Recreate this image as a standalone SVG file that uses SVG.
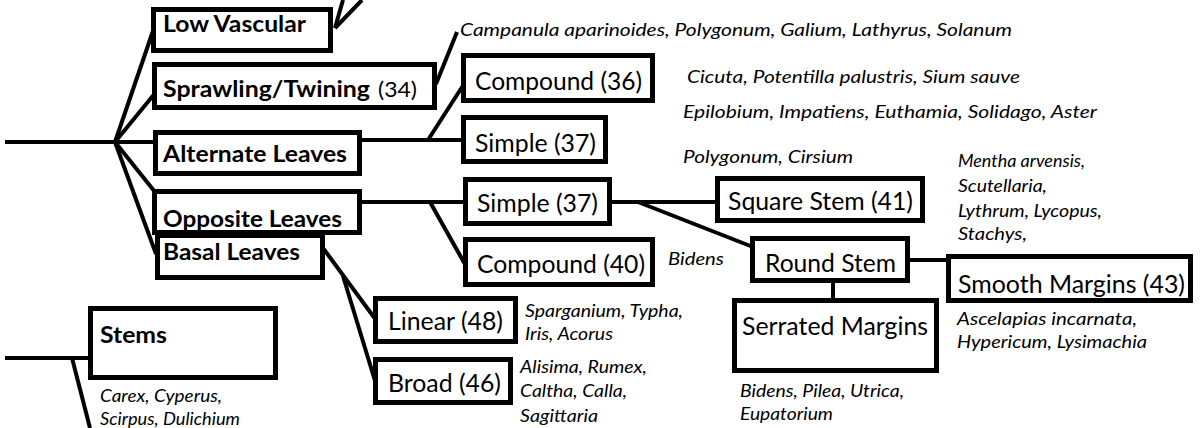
<svg xmlns="http://www.w3.org/2000/svg" width="1201" height="428" viewBox="0 0 1201 428">
<style>
.box{fill:#fff;stroke:#000;stroke-width:5}
.c{stroke:#000;stroke-width:4;fill:none;stroke-linecap:butt}
text{font-family:Lato,"Open Sans","Liberation Sans",sans-serif;fill:#000}
.b{font-weight:bold;font-size:22px}
.r{font-size:25px}
.i{font-style:italic;font-size:17.5px}
</style>
<rect width="1201" height="428" fill="#fff"/>
<g id="connectors">
<line class="c" x1="5" y1="142" x2="155" y2="142"/>
<line class="c" x1="115" y1="142" x2="154" y2="28"/>
<line class="c" x1="115" y1="142" x2="156" y2="92"/>
<line class="c" x1="115" y1="142" x2="155" y2="192"/>
<line class="c" x1="115" y1="142" x2="156" y2="254"/>
<line class="c" x1="335" y1="28" x2="343" y2="0"/>
<line class="c" x1="335" y1="28" x2="362" y2="0"/>
<line class="c" x1="436" y1="84" x2="457" y2="32"/>
<line class="c" x1="360" y1="140" x2="464" y2="140"/>
<line class="c" x1="428" y1="140" x2="464" y2="84"/>
<line class="c" x1="360" y1="202" x2="466" y2="202"/>
<line class="c" x1="430" y1="202" x2="466" y2="266"/>
<line class="c" x1="610" y1="202" x2="718" y2="202"/>
<line class="c" x1="638" y1="202" x2="753" y2="247"/>
<line class="c" x1="908" y1="260" x2="949" y2="260"/>
<line class="c" x1="833" y1="281" x2="833" y2="301"/>
<line class="c" x1="323" y1="248" x2="376" y2="320"/>
<line class="c" x1="343" y1="276" x2="376" y2="384"/>
<line class="c" x1="5" y1="358" x2="91" y2="358"/>
<line class="c" x1="72" y1="358" x2="90" y2="428"/>
</g>
<g id="low-vascular"><rect class="box" x="153.5" y="9.5" width="177" height="41"/><text class="b" x="163" y="32" textLength="143" lengthAdjust="spacingAndGlyphs">Low Vascular</text></g>
<g id="sprawling"><rect class="box" x="154.5" y="64.5" width="280" height="43"/><text class="b" x="163" y="97" textLength="207" lengthAdjust="spacingAndGlyphs">Sprawling/Twining</text><text x="378" y="97" font-size="22" textLength="39" lengthAdjust="spacingAndGlyphs">(34)</text></g>
<g id="alternate"><rect class="box" x="155.5" y="132.5" width="204" height="41"/><text class="b" x="163" y="162" textLength="184" lengthAdjust="spacingAndGlyphs">Alternate Leaves</text></g>
<g id="basal"><rect class="box" x="157.5" y="235.5" width="165" height="42"/><text class="b" x="163" y="260" textLength="137" lengthAdjust="spacingAndGlyphs">Basal Leaves</text></g>
<g id="opposite"><rect class="box" x="154.5" y="191.5" width="205" height="41"/><text class="b" x="163" y="227" textLength="179" lengthAdjust="spacingAndGlyphs">Opposite Leaves</text></g>
<g id="stems"><rect class="box" x="90.5" y="308.5" width="185" height="69"/><text class="b" x="100" y="343" textLength="67" lengthAdjust="spacingAndGlyphs">Stems</text></g>
<g id="compound36"><rect class="box" x="463.5" y="55.5" width="189" height="45"/><text class="r" x="475" y="90" textLength="167" lengthAdjust="spacingAndGlyphs">Compound (36)</text></g>
<g id="simple37a"><rect class="box" x="463.5" y="117.5" width="142" height="44"/><text class="r" x="475" y="152" textLength="121" lengthAdjust="spacingAndGlyphs">Simple (37)</text></g>
<g id="simple37b"><rect class="box" x="465.5" y="179.5" width="144" height="44"/><text class="r" x="477" y="212" textLength="121" lengthAdjust="spacingAndGlyphs">Simple (37)</text></g>
<g id="compound40"><rect class="box" x="465.5" y="239.5" width="187" height="45"/><text class="r" x="477" y="273" textLength="168" lengthAdjust="spacingAndGlyphs">Compound (40)</text></g>
<g id="linear48"><rect class="box" x="375.5" y="298.5" width="140" height="43"/><text class="r" x="388" y="330" textLength="115" lengthAdjust="spacingAndGlyphs">Linear (48)</text></g>
<g id="broad46"><rect class="box" x="375.5" y="359.5" width="135" height="43"/><text class="r" x="388" y="392" textLength="113" lengthAdjust="spacingAndGlyphs">Broad (46)</text></g>
<g id="square41"><rect class="box" x="717.5" y="178.5" width="205" height="42"/><text class="r" x="728" y="210" textLength="185" lengthAdjust="spacingAndGlyphs">Square Stem (41)</text></g>
<g id="round"><rect class="box" x="752.5" y="238.5" width="155" height="42"/><text class="r" x="765" y="272" textLength="131" lengthAdjust="spacingAndGlyphs">Round Stem</text></g>
<g id="serrated"><rect class="box" x="734.5" y="300.5" width="202" height="70"/><text class="r" x="742" y="335" textLength="186" lengthAdjust="spacingAndGlyphs">Serrated Margins</text></g>
<g id="smooth43"><rect class="box" x="948.5" y="256.5" width="242" height="44" stroke-width="6"/><text class="r" x="958" y="293" textLength="227" lengthAdjust="spacingAndGlyphs">Smooth Margins (43)</text></g>
<g id="species">
<text class="i" x="460" y="36" textLength="552" lengthAdjust="spacingAndGlyphs">Campanula aparinoides, Polygonum, Galium, Lathyrus, Solanum</text>
<text class="i" x="687" y="83" textLength="333" lengthAdjust="spacingAndGlyphs">Cicuta, Potentilla palustris, Sium sauve</text>
<text class="i" x="683" y="118" textLength="414" lengthAdjust="spacingAndGlyphs">Epilobium, Impatiens, Euthamia, Solidago, Aster</text>
<text class="i" x="683" y="163" textLength="170" lengthAdjust="spacingAndGlyphs">Polygonum, Cirsium</text>
<text class="i" x="668" y="265" textLength="56" lengthAdjust="spacingAndGlyphs">Bidens</text>
<text class="i" x="958" y="167" textLength="127" lengthAdjust="spacingAndGlyphs">Mentha arvensis,</text>
<text class="i" x="958" y="192" textLength="89" lengthAdjust="spacingAndGlyphs">Scutellaria,</text>
<text class="i" x="958" y="217" textLength="144" lengthAdjust="spacingAndGlyphs">Lythrum, Lycopus,</text>
<text class="i" x="958" y="240" textLength="69" lengthAdjust="spacingAndGlyphs">Stachys,</text>
<text class="i" x="957" y="325" textLength="180" lengthAdjust="spacingAndGlyphs">Ascelapias incarnata,</text>
<text class="i" x="957" y="348" textLength="190" lengthAdjust="spacingAndGlyphs">Hypericum, Lysimachia</text>
<text class="i" x="525" y="317" textLength="158" lengthAdjust="spacingAndGlyphs">Sparganium, Typha,</text>
<text class="i" x="525" y="340" textLength="88" lengthAdjust="spacingAndGlyphs">Iris, Acorus</text>
<text class="i" x="520" y="373" textLength="127" lengthAdjust="spacingAndGlyphs">Alisima, Rumex,</text>
<text class="i" x="520" y="397" textLength="107" lengthAdjust="spacingAndGlyphs">Caltha, Calla,</text>
<text class="i" x="520" y="422" textLength="78" lengthAdjust="spacingAndGlyphs">Sagittaria</text>
<text class="i" x="740" y="397" textLength="164" lengthAdjust="spacingAndGlyphs">Bidens, Pilea, Utrica,</text>
<text class="i" x="740" y="420" textLength="93" lengthAdjust="spacingAndGlyphs">Eupatorium</text>
<text class="i" x="100" y="402" textLength="122" lengthAdjust="spacingAndGlyphs">Carex, Cyperus,</text>
<text class="i" x="100" y="425" textLength="140" lengthAdjust="spacingAndGlyphs">Scirpus, Dulichium</text>
</g>
</svg>
